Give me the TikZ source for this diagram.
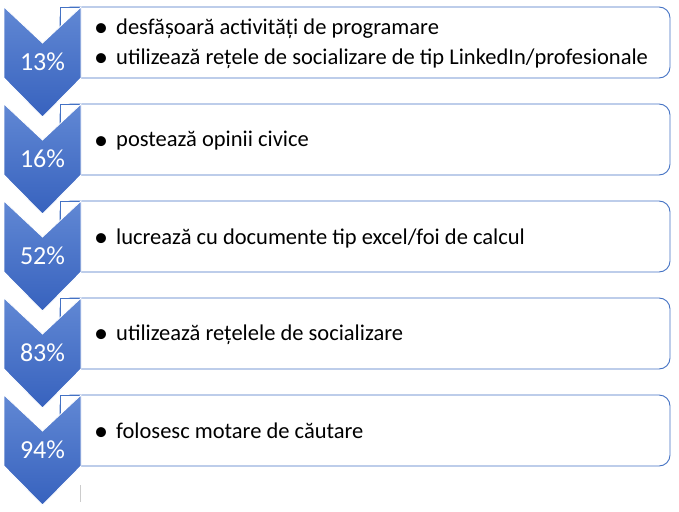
\documentclass[tikz,border=0pt]{standalone}
\usepackage{fontspec}
\setmainfont{Carlito}
\definecolor{cblue}{HTML}{4472C4}
\definecolor{ctop}{HTML}{6188D4}
\definecolor{cbot}{HTML}{3762BE}
\newcommand{\bul}{\llap{\raisebox{-2.2pt}{\scalebox{1.25}{\textbullet}}\hspace{8pt}}}
\begin{document}
\begin{tikzpicture}[x=1pt,y=-1pt,
  chev/.style={top color=ctop,bottom color=cbot,draw=white,line width=0.8pt},
  box/.style={draw=cblue,line width=0.9pt,fill=white},
  pct/.style={text=white,font=\fontsize{26}{30}\selectfont,anchor=center},
  txt/.style={anchor=west,font=\fontsize{22.5}{30}\selectfont,align=left,inner sep=0pt}]
\useasboundingbox (0,0) rectangle (679,511);
\foreach \i/\p in {0/13,1/16,2/52,3/83,4/94}{
  \pgfmathsetmacro{\t}{7+97*\i}
  \pgfmathsetmacro{\b}{78+97*\i}
  \pgfmathsetmacro{\n}{43+97*\i}
  \pgfmathsetmacro{\pt}{117+97*\i}
  \draw[box,rounded corners=11pt] (60,\t) -- (670,\t) -- (670,\b) -- (60,\b) -- cycle;
  \draw[box] (81,\t) -- (60,\t) -- (60,\b) -- (81,\b);
  \draw[chev] (4,\t) -- (42.5,\n) -- (81,\t) -- (81,\b) -- (42.5,\pt) -- (4,\b) -- cycle;
  \node[pct] (p\i) at (42.5,{(\n+\b)/2+1}) {\p\%};
}
\node[txt] (t1) at (116,44) {\bul desfășoară activități de programare\\\bul utilizează rețele de socializare de tip LinkedIn/profesionale};
\node[txt] (t2) at (116,141) {\bul postează opinii civice};
\node[txt] (t3) at (116,238) {\bul lucrează cu documente tip excel/foi de calcul};
\node[txt] (t4) at (116,335) {\bul utilizează rețelele de socializare};
\node[txt] (t5) at (116,432) {\bul folosesc motare de căutare};
\coordinate (g1) at (80,485);
\coordinate (g2) at (80,502);
\draw[gray!40,line width=0.7pt] (g1) -- (g2);
\end{tikzpicture}
\end{document}
